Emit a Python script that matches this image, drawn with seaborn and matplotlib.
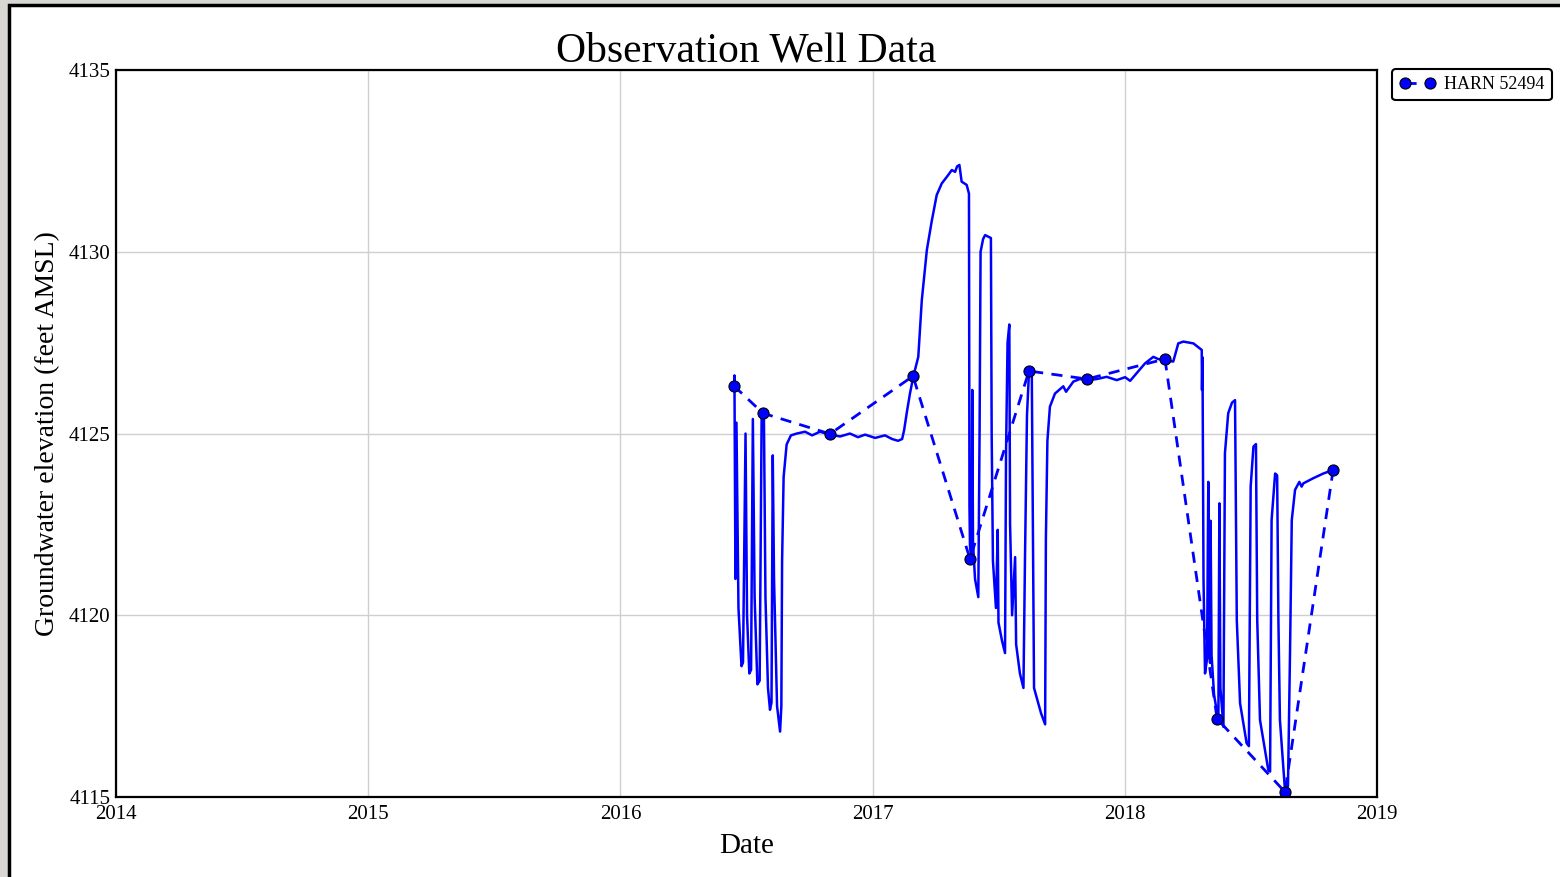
import matplotlib
matplotlib.use("Agg")
import pandas as pd
import matplotlib.pyplot as plt
import seaborn as sns
from matplotlib.patches import Rectangle

# continuous pressure transducer record (decimal year, feet AMSL)
logger_year = [
    2016.450, 2016.452, 2016.456, 2016.460, 2016.468, 2016.480, 2016.486, 2016.496,
    2016.502, 2016.511, 2016.518, 2016.525, 2016.532, 2016.543, 2016.552, 2016.560,
    2016.569, 2016.575, 2016.585, 2016.593, 2016.599, 2016.604, 2016.609, 2016.621,
    2016.633, 2016.638, 2016.641, 2016.647, 2016.659, 2016.676, 2016.699, 2016.732,
    2016.760, 2016.791, 2016.831, 2016.871, 2016.910, 2016.942, 2016.970, 2017.010,
    2017.049, 2017.077, 2017.101, 2017.117, 2017.125, 2017.136, 2017.148, 2017.161,
    2017.181, 2017.195, 2017.215, 2017.234, 2017.254, 2017.274, 2017.294, 2017.314,
    2017.327, 2017.335, 2017.344, 2017.353, 2017.373, 2017.382, 2017.384, 2017.386,
    2017.392, 2017.395, 2017.398, 2017.406, 2017.419, 2017.424, 2017.428, 2017.438,
    2017.446, 2017.469, 2017.472, 2017.477, 2017.489, 2017.496, 2017.499, 2017.513,
    2017.525, 2017.529, 2017.535, 2017.542, 2017.545, 2017.553, 2017.565, 2017.569,
    2017.584, 2017.598, 2017.604, 2017.612, 2017.620, 2017.631, 2017.636, 2017.640,
    2017.652, 2017.668, 2017.684, 2017.687, 2017.693, 2017.703, 2017.723, 2017.756,
    2017.767, 2017.796, 2017.822, 2017.851, 2017.889, 2017.928, 2017.968, 2018.001,
    2018.021, 2018.047, 2018.080, 2018.113, 2018.132, 2018.159, 2018.192, 2018.212,
    2018.232, 2018.272, 2018.305, 2018.306, 2018.308, 2018.312, 2018.318, 2018.326,
    2018.331, 2018.334, 2018.338, 2018.340, 2018.344, 2018.354, 2018.371, 2018.375,
    2018.379, 2018.391, 2018.397, 2018.410, 2018.425, 2018.437, 2018.444, 2018.457,
    2018.483, 2018.492, 2018.499, 2018.510, 2018.520, 2018.525, 2018.536, 2018.569,
    2018.576, 2018.582, 2018.596, 2018.604, 2018.609, 2018.615, 2018.635, 2018.647,
    2018.655, 2018.662, 2018.675, 2018.692, 2018.701, 2018.708, 2018.747, 2018.787,
    2018.827,
]
logger_elev = [
    4126.2, 4126.6, 4121.0, 4125.3, 4120.2, 4118.6, 4118.7, 4125.0,
    4120.0, 4118.4, 4118.5, 4125.4, 4120.5, 4118.1, 4118.2, 4125.6,
    4125.4, 4120.5, 4118.0, 4117.4, 4117.6, 4124.4, 4121.0, 4117.5,
    4116.8, 4117.5, 4121.5, 4123.8, 4124.7, 4124.95, 4125.0, 4125.05,
    4124.95, 4125.05, 4124.97, 4124.92, 4125.0, 4124.9, 4124.97, 4124.88,
    4124.95, 4124.85, 4124.8, 4124.85, 4125.1, 4125.6, 4126.1, 4126.56,
    4127.11, 4128.67, 4130.05, 4130.83, 4131.56, 4131.88, 4132.06, 4132.25,
    4132.2, 4132.35, 4132.39, 4131.93, 4131.84, 4131.6, 4123.0, 4121.9,
    4121.5, 4126.2, 4122.0, 4121.0, 4120.5, 4125.0, 4130.0, 4130.35,
    4130.46, 4130.38, 4125.0, 4121.5, 4120.2, 4122.35, 4119.8, 4119.3,
    4118.96, 4124.5, 4127.5, 4128.0, 4122.5, 4120.0, 4121.6, 4119.2,
    4118.4, 4118.0, 4121.5, 4125.5, 4126.7, 4126.75, 4122.0, 4118.0,
    4117.7, 4117.3, 4117.0, 4122.1, 4124.8, 4125.74, 4126.1, 4126.3,
    4126.15, 4126.43, 4126.5, 4126.47, 4126.5, 4126.56, 4126.47, 4126.55,
    4126.45, 4126.66, 4126.93, 4127.11, 4127.05, 4127.02, 4126.98, 4127.48,
    4127.53, 4127.48, 4127.3, 4126.2, 4127.1, 4121.0, 4118.4, 4118.8,
    4123.67, 4119.5, 4118.69, 4122.6, 4118.9, 4117.8, 4117.12, 4123.08,
    4118.0, 4116.93, 4124.46, 4125.56, 4125.85, 4125.92, 4119.87, 4117.58,
    4116.48, 4116.4, 4123.54, 4124.64, 4124.71, 4119.87, 4117.12, 4115.74,
    4115.7, 4122.62, 4123.9, 4123.85, 4119.87, 4117.12, 4115.19, 4115.3,
    4118.95, 4122.62, 4123.45, 4123.67, 4123.54, 4123.63, 4123.77, 4123.9,
    4124.0,
]

# manual tape measurements
manual_year = [2016.450, 2016.565, 2016.831, 2017.160, 2017.386, 2017.620,
               2017.850, 2018.159, 2018.366, 2018.635, 2018.826]
manual_elev = [4126.31, 4125.56, 4124.99, 4126.58, 4121.55, 4126.72,
               4126.50, 4127.05, 4117.15, 4115.14, 4124.00]

year_ticks = [2014, 2015, 2016, 2017, 2018, 2019]
elev_ticks = [4115, 4120, 4125, 4130, 4135]
well_name = "HARN 52494"

logger = pd.DataFrame({"year": logger_year, "elev": logger_elev})
manual = pd.DataFrame({"year": manual_year, "elev": manual_elev})

sns.set_style("whitegrid")
plt.rcParams["font.family"] = ["Liberation Serif", "DejaVu Serif"]
plt.rcParams["text.color"] = "black"
plt.rcParams["axes.labelcolor"] = "black"
plt.rcParams["xtick.color"] = "black"
plt.rcParams["ytick.color"] = "black"

fig = plt.figure(figsize=(15.6, 8.77), dpi=100)
fig.patch.set_facecolor("#d9d7d3")
# white page with the black screen frame behind the plot
page = Rectangle((0.006, -0.01), 1.0, 1.004, transform=fig.transFigure,
                 facecolor="white", edgecolor="black", linewidth=2.5, zorder=-10)
fig.patches.append(page)

ax = fig.add_axes([0.0744, 0.0912, 0.8083, 0.8289])
ax.set_zorder(1)

sns.lineplot(data=logger, x="year", y="elev", ax=ax, color="#0000ff",
             linewidth=1.8, estimator=None, sort=False)
sns.lineplot(data=manual, x="year", y="elev", ax=ax, color="#0000ff",
             linewidth=2.0, linestyle=(0, (4, 3)), marker="o", markersize=8,
             markeredgecolor="black", markeredgewidth=0.8,
             estimator=None, sort=False, label=well_name)

ax.set_xlim(2014, 2019)
ax.set_ylim(4115, 4135)
ax.set_xticks(year_ticks)
ax.set_xticklabels([str(y) for y in year_ticks])
ax.set_yticks(elev_ticks)
ax.set_yticklabels([str(v) for v in elev_ticks])
ax.tick_params(axis="both", labelsize=15, direction="in", length=5,
               color="#999999", labelcolor="black")
ax.tick_params(axis="x", pad=6)
ax.tick_params(axis="y", pad=4)
ax.grid(True, color="#cfcfcf", linewidth=1.0)
for s in ax.spines.values():
    s.set_color("black")
    s.set_linewidth(1.6)

ax.set_title("Observation Well Data", fontsize=30, pad=6, color="black")
ax.set_xlabel("Date", fontsize=21, labelpad=6, color="black")
ax.set_ylabel("Groundwater elevation (feet AMSL)", fontsize=20, labelpad=6,
              color="black")

leg = ax.legend(loc="upper left", bbox_to_anchor=(1392 / 1560, 1 - 69 / 877),
                bbox_transform=fig.transFigure, borderaxespad=0, fontsize=13,
                numpoints=2, handlelength=2.0, handletextpad=0.5,
                fancybox=True, framealpha=1)
leg.get_frame().set_edgecolor("black")
leg.get_frame().set_linewidth(1.5)
for t in leg.get_texts():
    t.set_color("black")

fig.savefig("out.png", dpi=100, facecolor=fig.get_facecolor())
